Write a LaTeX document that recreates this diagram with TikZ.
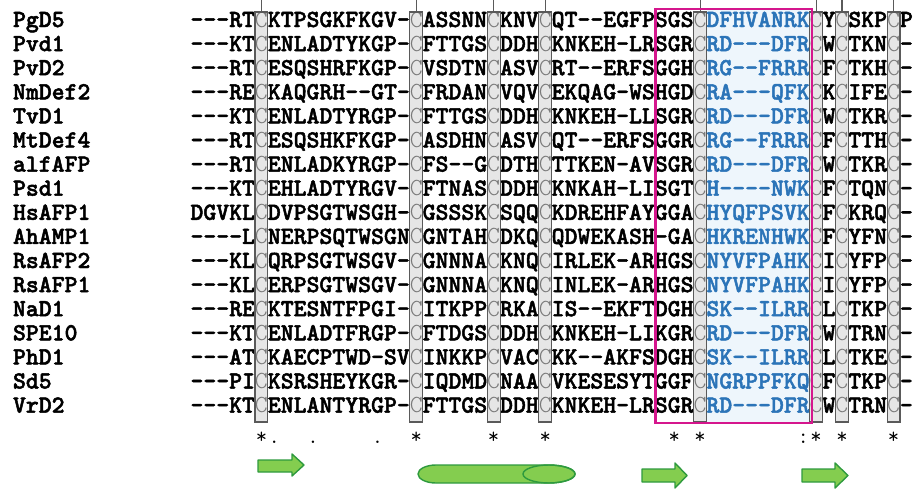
\documentclass[tikz,border=0pt]{standalone}
\usepackage{fontspec}
% heavy typewriter face for the alignment, light face for shaded cysteines
\newfontfamily\seqfont{lmmonolt10-bold.otf}[FakeBold=2]
\newfontfamily\cysfont{lmmonolt10-regular.otf}
\definecolor{cysline}{HTML}{5A5A5A}
\definecolor{cysfill}{HTML}{E6E6E6}
\definecolor{cysletter}{HTML}{7A7A7A}
\definecolor{loopblue}{HTML}{2B74B8}
\definecolor{loopfill}{HTML}{EEF6FC}
\definecolor{motif}{HTML}{D5168D}
\definecolor{ssfill}{HTML}{84CD4F}
\definecolor{ssline}{HTML}{2E9A3E}
% conserved cysteine and loop residues
\newcommand\cysC{{\cysfont\textcolor{cysletter}{C}}}
\newcommand\loopseq[1]{\textcolor{loopblue}{#1}}
% column geometry: first column starts at x0, one residue is \pitch wide
\newcommand\xzero{190.5}
\newcommand\pitch{12.9}
\newcommand\seqline[3]{%
  \node[namelbl] (name#1) at (13,{27+24.1*(#1-1)}) {#2};
  \node[seqtxt] (seq#1) at (\xzero,{27+24.1*(#1-1)}) {#3};}
\tikzset{
  namelbl/.style={anchor=base west,inner sep=0pt,outer sep=0pt,
    font=\seqfont\fontsize{24.57pt}{26pt}\selectfont},
  seqtxt/.style={anchor=base west,inner sep=0pt,outer sep=0pt,
    font=\seqfont\fontsize{24.57pt}{26pt}\selectfont},
  conslbl/.style={anchor=base,inner sep=0pt,
    font=\fontsize{22pt}{24pt}\selectfont\ttfamily},
  cysbox/.style={draw=cysline,line width=1.1pt},
  cystick/.style={draw=cysline,line width=1.1pt},
  motifbox/.style={draw=motif,line width=2.6pt},
  sselem/.style={fill=ssfill,draw=ssline,line width=1.4pt,line join=round},
}
\begin{document}
\begin{tikzpicture}[x=1pt,y=-1pt]
\useasboundingbox (0,0) rectangle (914,490);
% pale background of the loop region
\fill[loopfill] ({\xzero+40*\pitch},9) rectangle (812,423);
% shaded cysteine columns
\foreach \k in {6,18,24,28,40,49,51,55}
  \fill[cysfill] ({\xzero+(\k-1)*\pitch},12) rectangle ({\xzero+\k*\pitch},422);
% alignment
\seqline{1}{PgD5}{---RT\cysC KTPSGKFKGV-\cysC ASSNN\cysC KNV\cysC QT--EGFPSGS\cysC\loopseq{DFHVANRK}\cysC Y\cysC SKP\cysC P}
\seqline{2}{Pvd1}{---KT\cysC ENLADTYKGP-\cysC FTTGS\cysC DDH\cysC KNKEH-LRSGR\cysC\loopseq{RD---DFR}\cysC W\cysC TKN\cysC -}
\seqline{3}{PvD2}{---RT\cysC ESQSHRFKGP-\cysC VSDTN\cysC ASV\cysC RT--ERFSGGH\cysC\loopseq{RG--FRRR}\cysC F\cysC TKH\cysC -}
\seqline{4}{NmDef2}{---RE\cysC KAQGRH--GT-\cysC FRDAN\cysC VQV\cysC EKQAG-WSHGD\cysC\loopseq{RA---QFK}\cysC K\cysC IFE\cysC -}
\seqline{5}{TvD1}{---KT\cysC ENLADTYRGP-\cysC FTTGS\cysC DDH\cysC KNKEH-LLSGR\cysC\loopseq{RD---DFR}\cysC W\cysC TKR\cysC -}
\seqline{6}{MtDef4}{---RT\cysC ESQSHKFKGP-\cysC ASDHN\cysC ASV\cysC QT--ERFSGGR\cysC\loopseq{RG--FRRR}\cysC F\cysC TTH\cysC -}
\seqline{7}{alfAFP}{---RT\cysC ENLADKYRGP-\cysC FS--G\cysC DTH\cysC TTKEN-AVSGR\cysC\loopseq{RD---DFR}\cysC W\cysC TKR\cysC -}
\seqline{8}{Psd1}{---KT\cysC EHLADTYRGV-\cysC FTNAS\cysC DDH\cysC KNKAH-LISGT\cysC\loopseq{H----NWK}\cysC F\cysC TQN\cysC -}
\seqline{9}{HsAFP1}{DGVKL\cysC DVPSGTWSGH-\cysC GSSSK\cysC SQQ\cysC KDREHFAYGGA\cysC\loopseq{HYQFPSVK}\cysC F\cysC KRQ\cysC -}
\seqline{10}{AhAMP1}{----L\cysC NERPSQTWSGN\cysC GNTAH\cysC DKQ\cysC QDWEKASH-GA\cysC\loopseq{HKRENHWK}\cysC F\cysC YFN\cysC -}
\seqline{11}{RsAFP2}{---KL\cysC QRPSGTWSGV-\cysC GNNNA\cysC KNQ\cysC IRLEK-ARHGS\cysC\loopseq{NYVFPAHK}\cysC I\cysC YFP\cysC -}
\seqline{12}{RsAFP1}{---KL\cysC ERPSGTWSGV-\cysC GNNNA\cysC KNQ\cysC INLEK-ARHGS\cysC\loopseq{NYVFPAHK}\cysC I\cysC YFP\cysC -}
\seqline{13}{NaD1}{---RE\cysC KTESNTFPGI-\cysC ITKPP\cysC RKA\cysC IS--EKFTDGH\cysC\loopseq{SK--ILRR}\cysC L\cysC TKP\cysC -}
\seqline{14}{SPE10}{---KT\cysC ENLADTFRGP-\cysC FTDGS\cysC DDH\cysC KNKEH-LIKGR\cysC\loopseq{RD---DFR}\cysC W\cysC TRN\cysC -}
\seqline{15}{PhD1}{---AT\cysC KAECPTWD-SV\cysC INKKP\cysC VAC\cysC KK--AKFSDGH\cysC\loopseq{SK--ILRR}\cysC L\cysC TKE\cysC -}
\seqline{16}{Sd5}{---PI\cysC KSRSHEYKGR-\cysC IQDMD\cysC NAA\cysC VKESESYTGGF\cysC\loopseq{NGRPPFKQ}\cysC F\cysC TKP\cysC -}
\seqline{17}{VrD2}{---KT\cysC ENLANTYRGP-\cysC FTTGS\cysC DDH\cysC KNKEH-LRSGR\cysC\loopseq{RD---DFR}\cysC W\cysC TRN\cysC -}
% outlines and top ticks of the cysteine columns
\foreach \k in {6,18,24,28,40,49,51,55}{
  \draw[cysbox] ({\xzero+(\k-1)*\pitch},12) rectangle ({\xzero+\k*\pitch},422);
  \draw[cystick] ({\xzero+(\k-0.5)*\pitch},0) -- ({\xzero+(\k-0.5)*\pitch},12);
}
% gamma-core motif frame
\draw[motifbox] (655.5,9) rectangle (812,423);
% conservation line
\foreach \k/\s in {6/*,7/.,10/.,15/.,18/*,24/*,28/*,38/*,40/*,48/:,49/*,51/*,55/*}
  \node[conslbl] (cons\k) at ({\xzero+(\k-0.5)*\pitch},443) {\s};
% secondary structure: strands and helix
\path[sselem] (258,460) -- (292,460) -- (292,454) -- (304,465) -- (292,476) -- (292,472) -- (258,472) -- cycle;
\path[sselem] (436,465) -- (549,465) arc[start angle=-90,end angle=90,x radius=26,y radius=9]
  -- (436,483) arc[start angle=90,end angle=270,x radius=18,y radius=9] -- cycle;
\draw[ssline,line width=1.4pt] (549,474) ellipse[x radius=26,y radius=9];
\path[sselem] (642,469) -- (675,469) -- (675,463) -- (687,475.5) -- (675,488) -- (675,482) -- (642,482) -- cycle;
\path[sselem] (802,469) -- (835,469) -- (835,463) -- (848,475.5) -- (835,488) -- (835,482) -- (802,482) -- cycle;
\end{tikzpicture}
\end{document}
